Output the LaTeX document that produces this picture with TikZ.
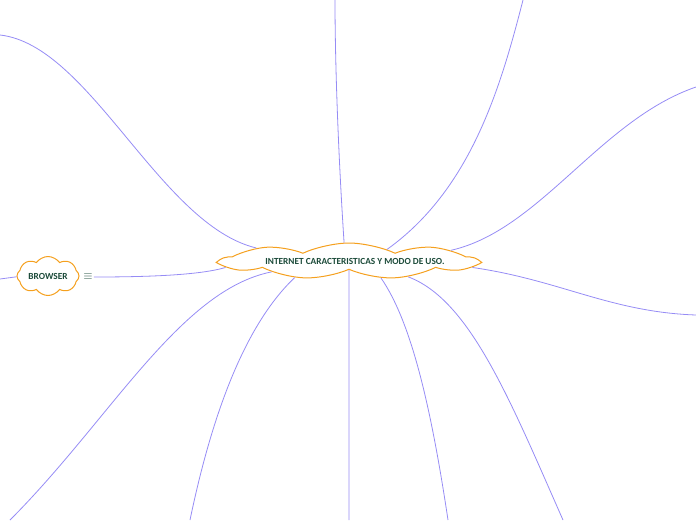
\documentclass[tikz,border=0pt]{standalone}
\usepackage{fontspec}
\setmainfont{Carlito}
\usetikzlibrary{shapes.symbols}
\definecolor{linkblue}{RGB}{150,140,245}
\definecolor{cloudorange}{RGB}{245,160,30}
\definecolor{textgreen}{RGB}{28,75,58}

\begin{document}
\begin{tikzpicture}[x=1pt,y=-1pt,
    idea/.style={cloud,cloud ignores aspect,draw=cloudorange,fill=white,line width=1pt,
      text=textgreen,font=\bfseries\fontsize{9.3}{11}\selectfont,inner sep=0pt},
    link/.style={linkblue,line width=0.8pt}]
        \useasboundingbox (0,0) rectangle (696,520);
        \node[idea,cloud puffs=9,cloud puff arc=50,minimum width=248pt,minimum height=36pt] (main) at (349,261) {\hspace*{12pt}INTERNET CARACTERISTICAS Y MODO DE USO.};
        \node[idea,cloud puffs=8,cloud puff arc=110,minimum width=62pt,minimum height=39pt] (browser) at (48,276) {BROWSER};
        \node[text=textgreen,inner sep=1pt,font=\large] (menu) at (88,277) {$\equiv$};
        \coordinate (e1) at (0,35);
        \coordinate (e2) at (335,0);
        \coordinate (e3) at (523,0);
        \coordinate (e4) at (696,87);
        \coordinate (e5) at (696,315);
        \coordinate (e6) at (563,520);
        \coordinate (e7) at (448,520);
        \coordinate (e8) at (349,520);
        \coordinate (e9) at (190,520);
        \coordinate (e10) at (10,520);
        \coordinate (e11) at (0,279);
        \draw[link] (main.172) .. controls (160,225) and (90,45) .. (e1);
        \draw[link] (main.105) .. controls (338,150) and (335,60) .. (e2);
        \draw[link] (main.17) .. controls (470,190) and (500,90) .. (e3);
        \draw[link] (main.6) .. controls (540,230) and (600,120) .. (e4);
        \draw[link] (main.357) .. controls (560,280) and (610,312) .. (e5);
        \draw[link] (main.345) .. controls (470,300) and (510,400) .. (e6);
        \draw[link] (main.332) .. controls (410,320) and (430,400) .. (e7);
        \draw[link] (main.270) -- (e8);
        \draw[link] (main.197) .. controls (250,320) and (215,400) .. (e9);
        \draw[link] (main.188) .. controls (180,290) and (110,420) .. (e10);
        \draw[link] (main.183) .. controls (200,275) and (150,277) .. (menu);
        \draw[link] (browser) .. controls (8,277) .. (e11);
      \end{tikzpicture}
\end{document}
